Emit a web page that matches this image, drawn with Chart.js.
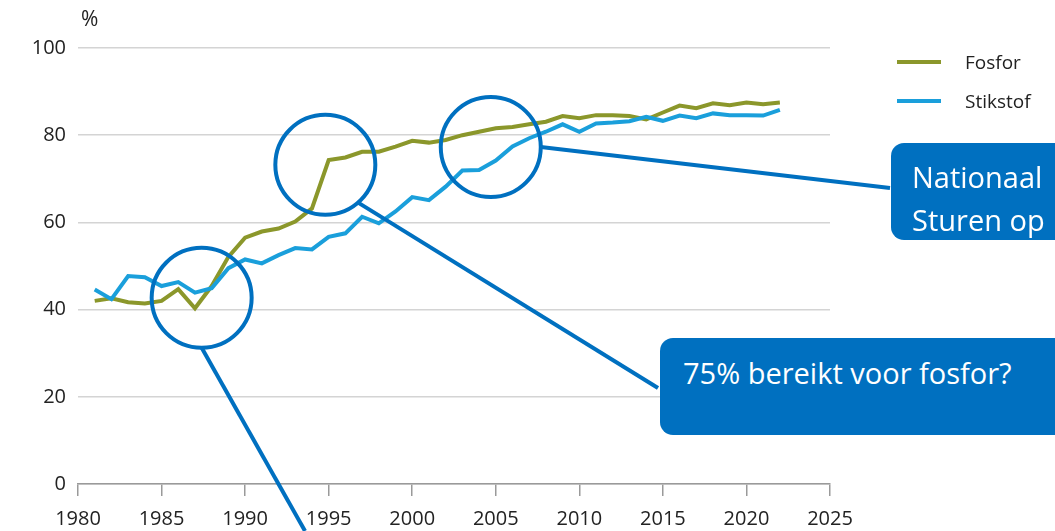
<!DOCTYPE html>
<html lang="nl">
<head>
  <meta charset="UTF-8" />
  <title>Fosfor en stikstof</title>
  <script src="https://cdn.jsdelivr.net/npm/chart.js"></script>
  <style>
    html, body { margin: 0; padding: 0; background: #fff; }
    #wrap {
      position: relative;
      width: 1055px;
      height: 531px;
      overflow: hidden;
      font-family: "Open Sans", "Noto Sans", sans-serif;
      color: #222;
    }
    #chart { position: absolute; left: 0; top: 0; }
    .unit { position: absolute; left: 81px; top: 4px; font-size: 21px; }
    .legend-item { position: absolute; left: 897px; height: 20px; display: flex; align-items: center; font-size: 19px; }
    .legend-item .swatch { width: 44px; height: 4px; margin-right: 24px; }
    .callout {
      position: absolute;
      background: #0070c0;
      color: #fff;
      border-radius: 13px;
      font-size: 29px;
      line-height: 43px;
      white-space: nowrap;
      box-sizing: border-box;
    }
  </style>
</head>
<body>
<div id="wrap">
  <canvas id="chart" width="1055" height="531" style="width:1055px;height:531px"></canvas>
  <div class="unit">%</div>
  <div class="legend-item" style="top:52px"><span class="swatch" style="background:#8b972b"></span>Fosfor</div>
  <div class="legend-item" style="top:91px"><span class="swatch" style="background:#1a9fdb"></span>Stikstof</div>
  <div class="callout" style="left:891px;top:143px;width:200px;height:97px;padding:12px 0 0 21px">Nationaal<br>Sturen op</div>
  <div class="callout" style="left:660px;top:338px;width:430px;height:97px;padding:13px 0 0 23px">75% bereikt voor fosfor?</div>
</div>

<script>
  // Data (% per year)
  const years = [
    1981, 1982, 1983, 1984, 1985, 1986, 1987, 1988, 1989, 1990,
    1991, 1992, 1993, 1994, 1995, 1996, 1997, 1998, 1999, 2000,
    2001, 2002, 2003, 2004, 2005, 2006, 2007, 2008, 2009, 2010,
    2011, 2012, 2013, 2014, 2015, 2016, 2017, 2018, 2019, 2020,
    2021, 2022
  ];
  const fosfor = [
    42.0, 42.6, 41.7, 41.4, 42.0, 44.7, 40.3, 45.4, 52.1, 56.5,
    57.9, 58.6, 60.2, 63.2, 74.3, 74.9, 76.2, 76.2, 77.4, 78.7,
    78.3, 78.9, 80.0, 80.8, 81.6, 81.9, 82.5, 83.1, 84.4, 83.9,
    84.6, 84.6, 84.4, 83.6, 85.2, 86.8, 86.2, 87.3, 86.9, 87.5,
    87.1, 87.5
  ];
  const stikstof = [
    44.6, 42.4, 47.7, 47.4, 45.4, 46.3, 43.9, 44.9, 49.5, 51.5,
    50.6, 52.5, 54.1, 53.8, 56.7, 57.5, 61.3, 59.8, 62.5, 65.8,
    65.1, 68.2, 71.9, 72.0, 74.2, 77.4, 79.3, 80.8, 82.5, 80.8,
    82.7, 82.9, 83.2, 84.2, 83.3, 84.5, 83.9, 85.0, 84.6, 84.6,
    84.5, 85.8
  ];
  const xTicks = [1980, 1985, 1990, 1995, 2000, 2005, 2010, 2015, 2020, 2025];
  const yTicks = [0, 20, 40, 60, 80, 100];

  // Highlight circles (centre in data units), where the connector leaves
  // the circle (angle in degrees) and where it ends (px)
  const circleYears  = [1987.4, 1994.8, 2004.7];
  const circleValues = [42.7, 73.2, 77.3];
  const connectorAngles = [90, 49, 0];
  const connectorEnds = [[305, 531], [658, 388], [890, 188]];

  const GREEN = '#8b972b';
  const BLUE = '#1a9fdb';
  const CALLOUT = '#0070c0';
  const FONT = '"Open Sans", "Noto Sans", sans-serif';

  const toPoints = vals => vals.map((v, i) => ({ x: years[i], y: v }));

  const highlightPlugin = {
    id: 'highlights',
    afterDatasetsDraw(chart) {
      const { ctx, scales } = chart;
      const r = 50;
      ctx.save();
      ctx.strokeStyle = CALLOUT;
      ctx.lineWidth = 4;
      circleYears.forEach((yr, i) => {
        const cx = scales.x.getPixelForValue(yr);
        const cy = scales.y.getPixelForValue(circleValues[i]);
        const [ex, ey] = connectorEnds[i];
        const a = connectorAngles[i] * Math.PI / 180;
        ctx.beginPath();
        ctx.moveTo(cx + r * Math.cos(a), cy + r * Math.sin(a));
        ctx.lineTo(ex, ey);
        ctx.stroke();
        ctx.beginPath();
        ctx.arc(cx, cy, r, 0, Math.PI * 2);
        ctx.stroke();
      });
      ctx.restore();
    }
  };

  new Chart(document.getElementById('chart'), {
    type: 'line',
    data: {
      datasets: [
        {
          label: 'Fosfor',
          data: toPoints(fosfor),
          borderColor: GREEN,
          borderWidth: 4,
          pointRadius: 0,
          order: 1
        },
        {
          label: 'Stikstof',
          data: toPoints(stikstof),
          borderColor: BLUE,
          borderWidth: 4,
          pointRadius: 0,
          order: 0
        }
      ]
    },
    options: {
      responsive: false,
      animation: false,
      devicePixelRatio: 1,
      layout: { padding: { left: 0, top: 48, right: 225, bottom: 0 } },
      plugins: {
        legend: { display: false },
        tooltip: { enabled: false }
      },
      scales: {
        x: {
          type: 'linear',
          min: 1980,
          max: 2025,
          afterFit: s => { s.height = 47; },
          afterBuildTicks: s => { s.ticks = xTicks.map(v => ({ value: v })); },
          border: { display: true, color: '#9a9a9a', width: 1.5 },
          grid: { drawOnChartArea: false, drawTicks: true, tickLength: 12, tickColor: '#9a9a9a', lineWidth: 1.5 },
          ticks: {
            color: '#222',
            font: { family: FONT, size: 20 },
            padding: 11,
            maxRotation: 0,
            callback: v => String(v)
          }
        },
        y: {
          min: 0,
          max: 100,
          afterFit: s => { s.width = 78; },
          afterBuildTicks: s => { s.ticks = yTicks.map(v => ({ value: v })); },
          border: { display: false },
          grid: { color: '#d4d4d4', lineWidth: 1.5, drawTicks: false },
          ticks: {
            color: '#222',
            font: { family: FONT, size: 20 },
            padding: 12
          }
        }
      }
    },
    plugins: [highlightPlugin]
  });
</script>
</body>
</html>
